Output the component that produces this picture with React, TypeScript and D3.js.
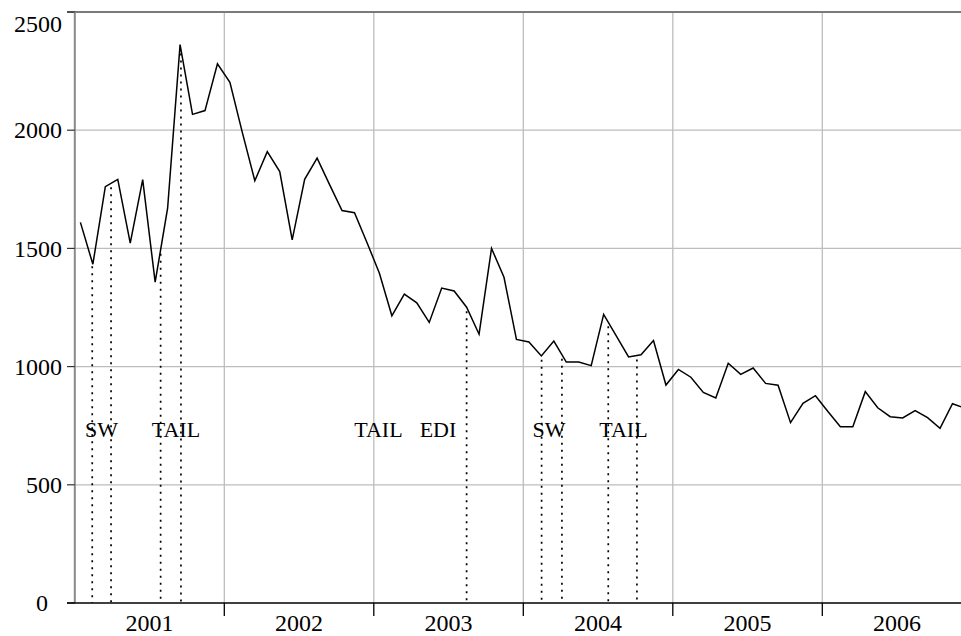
import * as d3 from "d3";

const years = ["2001", "2002", "2003", "2004", "2005", "2006"];

// monthly values, Jan 2001 .. Dec 2006
const values = [
  1610, 1433, 1761, 1792, 1522, 1791, 1357, 1670, 2362, 2067, 2083, 2281,
  2203, 1990, 1786, 1909, 1825, 1536, 1792, 1882, 1770, 1660, 1651, 1525,
  1395, 1215, 1307, 1270, 1187, 1332, 1320, 1251, 1137, 1500, 1378, 1115,
  1104, 1045, 1108, 1019, 1019, 1004, 1221, 1131, 1041, 1050, 1110, 922,
  988, 955, 891, 867, 1014, 967, 994, 929, 921, 763, 845, 877,
  810, 746, 746, 894, 826, 788, 783, 814, 784, 739, 843, 824,
];

const yTicks = [0, 500, 1000, 1500, 2000, 2500];

// event dates, in months since Jan 2001
const events = [1.4, 2.91, 6.89, 8.52, 31.45, 37.47, 39.1, 42.82, 45.12];

const labelText = ["SW", "TAIL", "TAIL", "EDI", "SW", "TAIL"];
const labelMonth = [2.14, 8.12, 24.37, 29.15, 38.06, 44.04];

const W = 961;
const H = 636;
const margin = { top: 12, left: 74.8, bottom: 33 };
const font = "'Liberation Serif', 'Times New Roman', serif";

export default function App() {
  const x = d3
    .scaleLinear()
    .domain([0, years.length * 12])
    .range([margin.left, margin.left + 149.5 * years.length]);
  const y = d3
    .scaleLinear()
    .domain([0, 2500])
    .range([H - margin.bottom, margin.top]);

  const pts: [number, number][] = values.map((v, i) => [i + 0.45, v]);
  const line = d3
    .line<[number, number]>()
    .x((d) => x(d[0]))
    .y((d) => y(d[1]));

  const valueAt = (m: number) => {
    const t = m - 0.45;
    const i = Math.max(0, Math.min(values.length - 2, Math.floor(t)));
    const f = t - i;
    return values[i] * (1 - f) + values[i + 1] * f;
  };

  const y0 = y(0);
  const yTop = y(2500);
  const yearBounds = d3.range(1, years.length).map((k) => k * 12);

  return (
    <div style={{ position: "fixed", left: 0, top: 0, background: "#fff" }}>
      <svg width={W} height={H} viewBox={`0 0 ${W} ${H}`} style={{ display: "block" }}>
        <rect width={W} height={H} fill="#fff" />
        {/* horizontal grid */}
        {yTicks
          .filter((t) => t > 0 && t < 2500)
          .map((t) => (
            <line key={t} x1={x(0)} x2={W} y1={y(t)} y2={y(t)} stroke="#bdbdbd" strokeWidth={1.3} />
          ))}
        {/* vertical grid at year boundaries */}
        {yearBounds.map((m) => (
          <line key={m} x1={x(m)} x2={x(m)} y1={yTop} y2={y0} stroke="#bdbdbd" strokeWidth={1.3} />
        ))}
        {/* top frame */}
        <line x1={67} x2={W} y1={yTop} y2={yTop} stroke="#7a7a7a" strokeWidth={2} />
        {/* left axis */}
        <line x1={x(0)} x2={x(0)} y1={yTop} y2={y0} stroke="#8a8a8a" strokeWidth={2} />
        {/* y ticks */}
        {yTicks.map((t) => (
          <line key={t} x1={67} x2={x(0)} y1={y(t)} y2={y(t)} stroke="#333" strokeWidth={1.2} />
        ))}
        {yTicks.map((t, i) => (
          <text
            key={t}
            x={t === 0 ? 48 : 62}
            y={i === yTicks.length - 1 ? y(t) + 12 : y(t)}
            dy="0.34em"
            textAnchor="end"
            fontFamily={font}
            fontSize={24}
            fill="#000"
          >
            {t}
          </text>
        ))}
        {/* event lines */}
        {events.map((m) => (
          <line
            key={m}
            x1={x(m)}
            x2={x(m)}
            y1={y(valueAt(m)) + 4}
            y2={y0}
            stroke="#000"
            strokeWidth={1.7}
            strokeDasharray="2,5"
          />
        ))}
        {labelText.map((s, i) => (
          <text
            key={i}
            x={x(labelMonth[i])}
            y={437}
            textAnchor="middle"
            fontFamily={font}
            fontSize={22}
            fill="#000"
          >
            {s}
          </text>
        ))}
        {/* data */}
        <path d={line(pts) || ""} fill="none" stroke="#000" strokeWidth={1.5} strokeLinejoin="miter" />
        {/* x axis */}
        <line x1={67} x2={W} y1={y0} y2={y0} stroke="#000" strokeWidth={1.5} />
        {yearBounds.map((m) => (
          <line key={m} x1={x(m)} x2={x(m)} y1={y0} y2={y0 + 13} stroke="#000" strokeWidth={1.3} />
        ))}
        {years.map((yr, k) => (
          <text
            key={yr}
            x={x(k * 12 + 6)}
            y={631}
            textAnchor="middle"
            fontFamily={font}
            fontSize={24}
            fill="#000"
          >
            {yr}
          </text>
        ))}
      </svg>
    </div>
  );
}
